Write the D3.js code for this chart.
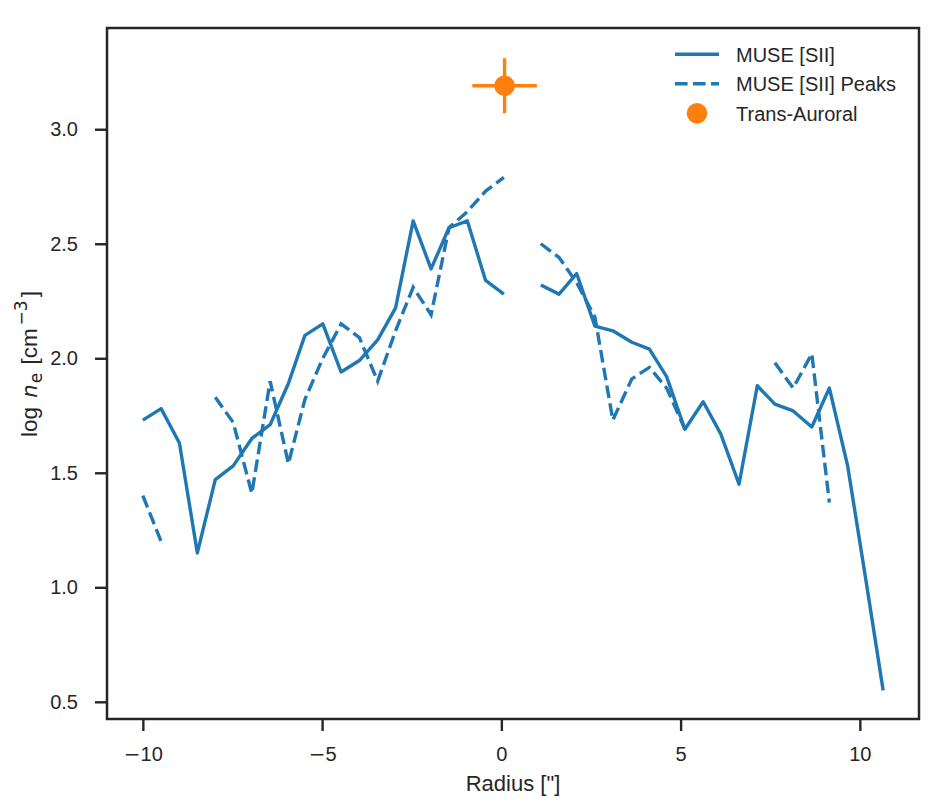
<!DOCTYPE html>
<html>
<head>
<meta charset="utf-8">
<script src="https://cdn.jsdelivr.net/npm/d3@7"></script>
<style>
  body { margin: 0; background: #fff; }
  svg text { font-family: "Liberation Sans", Arial, sans-serif; fill: #262626; }
</style>
</head>
<body>
<svg class="view" width="948" height="811"></svg>
<script>
// radius positions of the profile bins (arcsec)
var radius = [-10.00, -9.49, -8.98, -8.48, -7.98, -7.48, -6.96, -6.45, -5.94, -5.48,
    -4.98, -4.47, -3.96, -3.45, -2.95, -2.46, -1.96, -1.46, -0.95, -0.44,
    0.07, 0.58, 1.10, 1.61, 2.10, 2.61, 3.11, 3.64, 4.13, 4.61,
    5.12, 5.63, 6.12, 6.63, 7.14, 7.63, 8.14, 8.66, 9.15, 9.66,
    10.16, 10.65];

// log n_e, MUSE [SII]
var museSII = [1.73, 1.78, 1.63, 1.15, 1.47, 1.53, 1.65, 1.71, 1.89, 2.10,
    2.15, 1.94, 1.99, 2.08, 2.22, 2.60, 2.39, 2.57, 2.60, 2.34,
    2.28, null, 2.32, 2.28, 2.37, 2.14, 2.12, 2.07, 2.04, 1.92,
    1.69, 1.81, 1.67, 1.45, 1.88, 1.80, 1.77, 1.70, 1.87, 1.53,
    1.04, 0.55];

// log n_e, MUSE [SII] peaks
var museSIIPeaks = [1.40, 1.20, null, null, 1.83, 1.72, 1.41, 1.90, 1.54, 1.82,
    2.00, 2.15, 2.09, 1.90, 2.12, 2.31, 2.19, 2.57, 2.64, 2.73,
    2.79, null, 2.50, 2.44, 2.33, 2.18, 1.73, 1.91, 1.96, 1.87,
    1.69, null, null, null, null, 1.98, 1.87, 2.02, 1.37, null,
    null, null];

// trans-auroral point with errors
var taRadius = [0.09];
var taDensity = [3.19];
var taRadiusErr = [0.90];
var taDensityErr = [0.12];

var xTicks = [-10, -5, 0, 5, 10];
var yTicks = [0.5, 1.0, 1.5, 2.0, 2.5, 3.0];

var legendLabels = ['MUSE [SII]', 'MUSE [SII] Peaks', 'Trans-Auroral'];

var blue = '#1f77b4',
    orange = '#ff7f0e',
    ink = '#262626';

var svg = d3.select('.view');
var plotLeft = 107, plotRight = 919, plotTop = 28, plotBottom = 719;

var x = d3.scaleLinear().domain([-11.0, 11.65]).range([plotLeft, plotRight]);
var y = d3.scaleLinear().domain([0.425, 3.442]).range([plotBottom, plotTop]);

function profile(values) {
    return radius.map(function (r, i) {
        return {r: r, v: values[i]};
    });
}

var line = d3.line()
    .defined(function (d) { return d.v !== null; })
    .x(function (d) { return x(d.r); })
    .y(function (d) { return y(d.v); });

// lines
svg.append('path')
    .attr('d', line(profile(museSII)))
    .attr('fill', 'none')
    .attr('stroke', blue)
    .attr('stroke-width', 3.4)
    .attr('stroke-linejoin', 'round');

svg.append('path')
    .attr('d', line(profile(museSIIPeaks)))
    .attr('fill', 'none')
    .attr('stroke', blue)
    .attr('stroke-width', 3.4)
    .attr('stroke-dasharray', '12.6,5.4');

// error bar point
var ta = svg.append('g');
taRadius.forEach(function (r, i) {
    ta.append('line')
        .attr('x1', x(r - taRadiusErr[i])).attr('x2', x(r + taRadiusErr[i]))
        .attr('y1', y(taDensity[i])).attr('y2', y(taDensity[i]))
        .attr('stroke', orange).attr('stroke-width', 3.4);
    ta.append('line')
        .attr('x1', x(r)).attr('x2', x(r))
        .attr('y1', y(taDensity[i] - taDensityErr[i])).attr('y2', y(taDensity[i] + taDensityErr[i]))
        .attr('stroke', orange).attr('stroke-width', 3.4);
    ta.append('circle')
        .attr('cx', x(r)).attr('cy', y(taDensity[i]))
        .attr('r', 10.3)
        .attr('fill', orange);
});

// axes
var xAxis = svg.append('g')
    .attr('transform', 'translate(0,' + plotBottom + ')')
    .call(d3.axisBottom(x).tickValues(xTicks).tickFormat(d3.format('d'))
        .tickSizeInner(12).tickSizeOuter(0).tickPadding(16));

var yAxis = svg.append('g')
    .attr('transform', 'translate(' + plotLeft + ',0)')
    .call(d3.axisLeft(y).tickValues(yTicks).tickFormat(d3.format('.1f'))
        .tickSizeInner(12).tickSizeOuter(0).tickPadding(17));

[xAxis, yAxis].forEach(function (ax) {
    ax.select('.domain').remove();
    ax.selectAll('line').attr('stroke', ink).attr('stroke-width', 2.4);
    ax.selectAll('text')
        .attr('font-size', 20)
        .attr('font-family', '"Liberation Sans", Arial, sans-serif')
        .attr('fill', ink);
});

// wider minus sign, like the reference
xAxis.selectAll('.tick text').each(function (d) {
    if (d < 0) {
        var t = d3.select(this).text('');
        t.append('tspan').attr('font-family', '"DejaVu Sans"').text('\u2212');
        t.append('tspan').text(Math.abs(d));
    }
});

// frame
svg.append('rect')
    .attr('x', plotLeft).attr('y', plotTop)
    .attr('width', plotRight - plotLeft).attr('height', plotBottom - plotTop)
    .attr('fill', 'none')
    .attr('stroke', ink)
    .attr('stroke-width', 2.5);

// axis labels
svg.append('text')
    .attr('x', (plotLeft + plotRight) / 2)
    .attr('y', 791)
    .attr('text-anchor', 'middle')
    .attr('font-size', 22)
    .text('Radius ["]');

var ylab = svg.append('text')
    .attr('transform', 'translate(37,364) rotate(-90)')
    .attr('text-anchor', 'middle')
    .attr('font-size', 22.5);
ylab.append('tspan').text('log ');
ylab.append('tspan').attr('dx', 3).attr('font-family', '"DejaVu Sans"')
    .attr('font-style', 'italic').attr('font-size', 21).text('n');
ylab.append('tspan').attr('dx', 1).attr('font-family', '"DejaVu Sans"')
    .attr('font-size', 17).attr('dy', 5).text('e');
ylab.append('tspan').attr('dy', -5).attr('dx', 2).text(' [cm');
ylab.append('tspan').attr('dx', 3).attr('font-family', '"DejaVu Sans"')
    .attr('font-size', 17).attr('dy', -10).text('\u22123');
ylab.append('tspan').attr('dx', 3).attr('dy', 10).text(']');

// legend
var legend = svg.append('g');
var rowY = [61.5, 91, 120.5];
legendLabels.forEach(function (label, i) {
    var cy = rowY[i] - 7.3;
    if (i === 0 || i === 1) {
        legend.append('line')
            .attr('x1', 675).attr('x2', 719)
            .attr('y1', cy).attr('y2', cy)
            .attr('stroke', blue)
            .attr('stroke-width', 3.4)
            .attr('stroke-dasharray', i === 1 ? '12.6,5.4' : null);
    } else {
        legend.append('circle')
            .attr('cx', 697).attr('cy', cy)
            .attr('r', 10.3)
            .attr('fill', orange);
    }
    legend.append('text')
        .attr('x', 736).attr('y', rowY[i])
        .attr('font-size', 20)
        .text(label);
});
</script>
</body>
</html>
